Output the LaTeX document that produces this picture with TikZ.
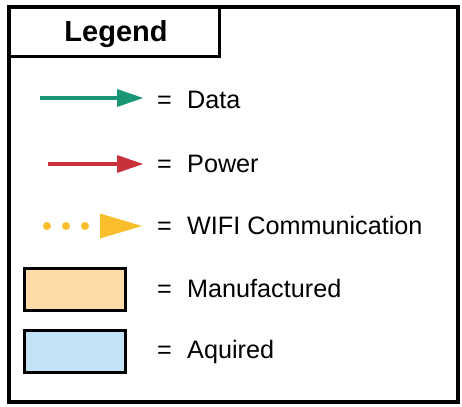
\documentclass[tikz,border=0pt]{standalone}
\usepackage{fontspec}
\setmainfont{Liberation Sans}
\usetikzlibrary{arrows.meta}

\definecolor{datagreen}{RGB}{24,150,118}
\definecolor{powerred}{RGB}{200,48,58}
\definecolor{wifiyellow}{RGB}{250,190,44}
\definecolor{madefill}{RGB}{255,219,168}
\definecolor{boughtfill}{RGB}{194,227,245}

\begin{document}
\begin{tikzpicture}[x=1pt,y=-1pt,
    frame/.style={line width=3.5pt},
    lbl/.style={anchor=base west,inner sep=0pt,font=\fontsize{25.2}{29}\selectfont},
    swatch/.style={draw,line width=3pt}]
    \useasboundingbox (0,0) rectangle (462,406);

    % Frame and title box
    \draw[frame] (9,7) rectangle (458,402);
    \draw[line width=3pt] (9,7) rectangle (219,57);
    \node[inner sep=0pt,anchor=base,font=\bfseries\fontsize{29}{32}\selectfont] (title) at (116,42) {Legend};

    % Arrows
    \coordinate (d1) at (40,98); \coordinate (d2) at (143,98);
    \coordinate (p1) at (48,164); \coordinate (p2) at (143,164);
    \coordinate (w1) at (47,226); \coordinate (w2) at (142,226);
    \draw[datagreen,line width=4pt,-{Triangle[length=26pt,width=18pt,line width=0pt]}] (d1)--(d2);
    \draw[powerred,line width=4pt,-{Triangle[length=26pt,width=18pt,line width=0pt]}] (p1)--(p2);
    \draw[wifiyellow,line width=8pt,line cap=round,dash pattern=on 0pt off 19pt,
        -{Triangle[length=42pt,width=25pt,line width=0pt]}] (w1)--(w2);

    % Swatches
    \node[swatch,fill=madefill,minimum width=101pt,minimum height=42pt] (made) at (74.5,289) {};
    \node[swatch,fill=boughtfill,minimum width=101pt,minimum height=42pt] (bought) at (74.5,351) {};

    % Labels
    \foreach \i/\y/\t in {1/109/Data,2/172/Power,3/234/WIFI Communication,4/297/Manufactured,5/358/Aquired} {
        \node[lbl] (eq\i) at (157,\y) {=};
        \node[lbl] (txt\i) at (187,\y) {\t};
    }
\end{tikzpicture}
\end{document}
